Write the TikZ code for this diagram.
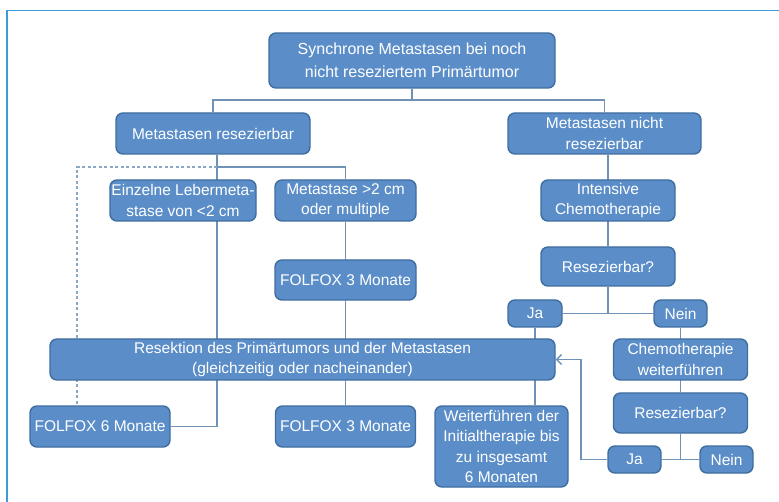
\documentclass[tikz,border=0pt]{standalone}
\usepackage{fontspec}
\setmainfont{Liberation Sans}
\usetikzlibrary{backgrounds,arrows.meta}

\definecolor{boxfill}{HTML}{5B8EC8}
\definecolor{boxline}{HTML}{3E6D9F}
\definecolor{linecol}{HTML}{6F92B6}
\definecolor{dashcol}{HTML}{8AA7C6}
\definecolor{framecol}{HTML}{3C9BD8}

\begin{document}
\begin{tikzpicture}[
  x=1pt, y=-1pt,
  box/.style={draw=boxline, fill=boxfill, line width=1.4pt, rounded corners=7pt,
    text=white, align=center, inner sep=0pt,
    font=\fontsize{15.5}{20.5}\selectfont},
  conn/.style={draw=linecol, line width=1.4pt},
  dashline/.style={draw=dashcol, line width=1.6pt, dash pattern=on 3pt off 2.5pt},
]
\useasboundingbox (0,0) rectangle (779,502);
\draw [framecol, line width=1.6pt] (7,502) -- (7,10.5) -- (779,10.5);

% left branch
\node [box, minimum width=286, minimum height=55, font=\fontsize{16}{23}\selectfont] (top) at (412,60.5)
  {Synchrone Metastasen bei noch\\nicht reseziertem Primärtumor};
\node [box, minimum width=194, minimum height=41] (mres) at (213,133.5) {Metastasen resezierbar};
\node [box, minimum width=146, minimum height=41] (einz) at (183,200.5) {Einzelne Lebermeta-\\stase von <2 cm};
\node [box, minimum width=141, minimum height=41] (multi) at (345.5,200.5) {Metastase >2 cm\\oder multiple};
\node [box, minimum width=141, minimum height=40] (folfoxa) at (345.5,280) {FOLFOX 3 Monate};
\node [box, minimum width=505, minimum height=41] (resek) at (302.5,359.5)
  {Resektion des Primärtumors und der Metastasen\\(gleichzeitig oder nacheinander)};
\node [box, minimum width=140, minimum height=41] (folfoxsix) at (100,426.5) {FOLFOX 6 Monate};
\node [box, minimum width=140, minimum height=41] (folfoxb) at (345.5,426.5) {FOLFOX 3 Monate};

% right branch
\node [box, minimum width=193, minimum height=41] (mnres) at (604.5,133.5) {Metastasen nicht\\resezierbar};
\node [box, minimum width=134, minimum height=41] (chemo) at (608,200.5) {Intensive\\Chemotherapie};
\node [box, minimum width=134, minimum height=39] (rq) at (608,266.5) {Resezierbar?};
\node [box, minimum width=54, minimum height=27] (ja) at (535,313.5) {Ja};
\node [box, minimum width=53, minimum height=27] (nein) at (680.5,313.5) {Nein};
\node [box, minimum width=133, minimum height=81] (weiter) at (501.5,446.5)
  {Weiterführen der\\Initialtherapie bis\\zu insgesamt\\6 Monaten};
\node [box, minimum width=134, minimum height=41] (chweiter) at (680.5,359.5) {Chemotherapie\\weiterführen};
\node [box, minimum width=134, minimum height=40] (rqb) at (680.5,413) {Resezierbar?};
\node [box, minimum width=53, minimum height=27] (jab) at (634.5,459.5) {Ja};
\node [box, minimum width=53, minimum height=27] (neinb) at (726.5,459.5) {Nein};

\coordinate (split) at (412,100);
\coordinate (lcol) at (217,167);
\coordinate (dcorner) at (77,167);
\coordinate (back) at (581,0);

\begin{scope}[on background layer]
  \draw [conn] (top) -- (split);
  \draw [conn] (mres.north) |- (split) -| (mnres.north);
  \draw [conn] (mres.south -| lcol) -- (lcol) -| (multi.north);
  \draw [conn] (lcol) -- (lcol |- folfoxsix) -- (folfoxsix.east);
  \draw [dashline] (lcol) -- (dcorner) -- (dcorner |- folfoxsix.north);
  \draw [conn] (multi) -- (folfoxb);
  \draw [conn] (mnres.south -| chemo) -- (rq);
  \draw [conn] (rq) -- (rq |- ja);
  \draw [conn] (ja) -- (nein);
  \draw [conn] (ja) -- (ja |- weiter.north);
  \draw [conn] (nein) -- (rqb);
  \draw [conn] (rqb) -- (rqb |- jab);
  \draw [conn] (jab) -- (neinb);
\end{scope}
\draw [conn, -{Straight Barb[length=5pt,width=10pt]}] (jab.west) -| (back |- resek.east) -- (resek.east);

\end{tikzpicture}
\end{document}
